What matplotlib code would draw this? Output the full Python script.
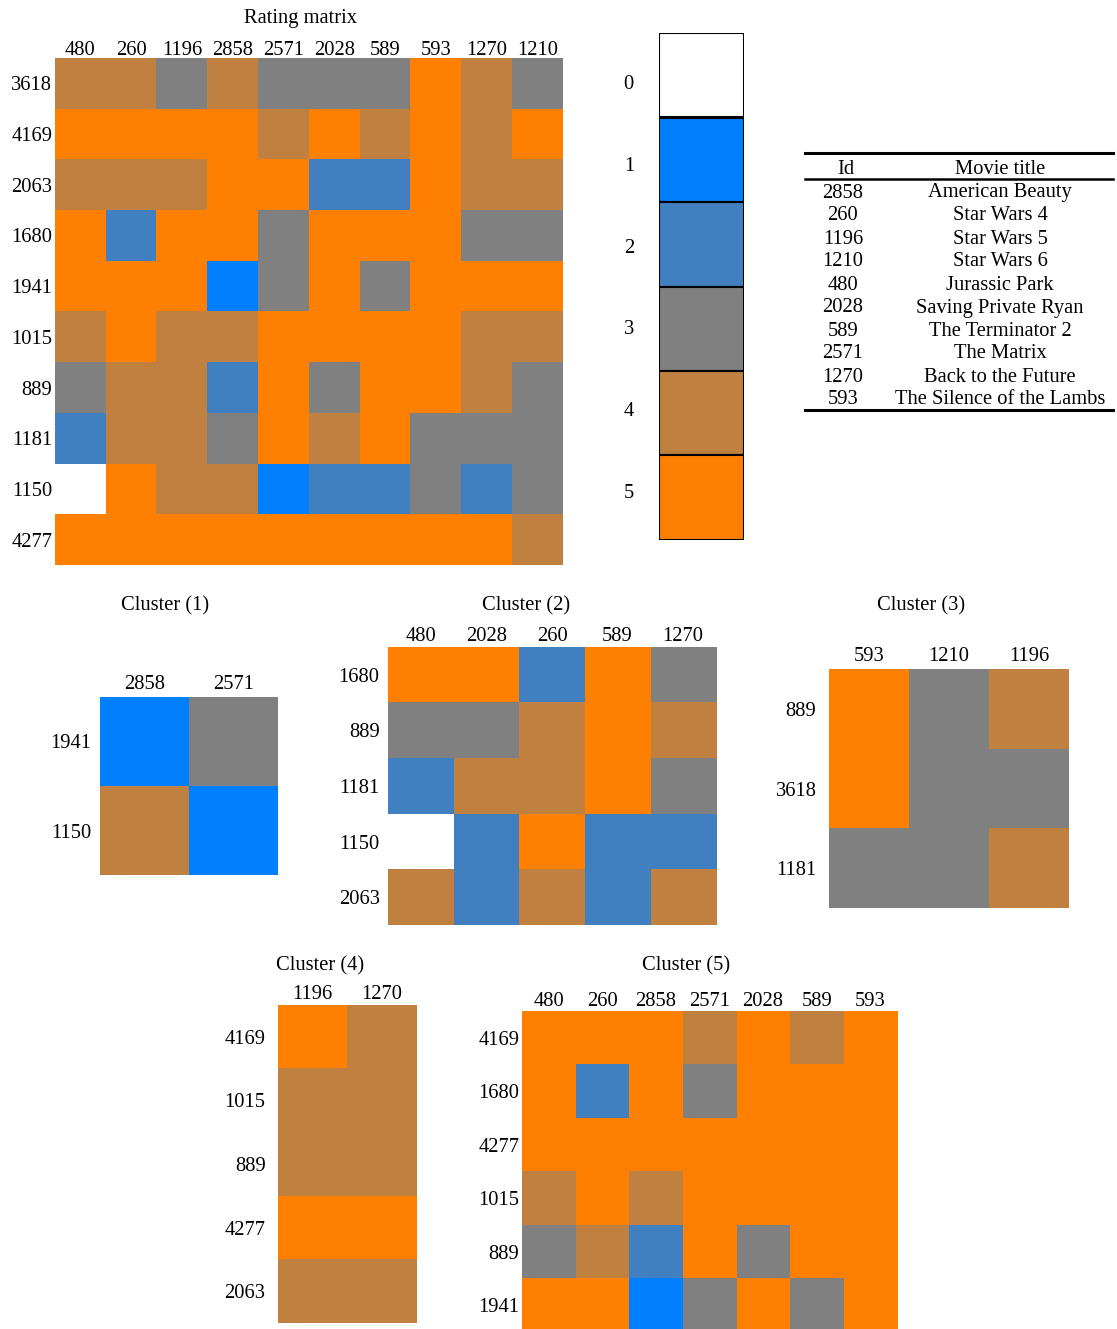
import numpy as np
import matplotlib
matplotlib.use("Agg")
import matplotlib.pyplot as plt
from matplotlib.colors import ListedColormap

plt.rcParams['font.family'] = ['Liberation Serif', 'DejaVu Serif']
plt.rcParams['font.size'] = 14.8

# rating matrix: rows are users, columns are movies
movies = [480, 260, 1196, 2858, 2571, 2028, 589, 593, 1270, 1210]
users = [3618, 4169, 2063, 1680, 1941, 1015, 889, 1181, 1150, 4277]
ratings = [
    [4, 4, 3, 4, 3, 3, 3, 5, 4, 3],
    [5, 5, 5, 5, 4, 5, 4, 5, 4, 5],
    [4, 4, 4, 5, 5, 2, 2, 5, 4, 4],
    [5, 2, 5, 5, 3, 5, 5, 5, 3, 3],
    [5, 5, 5, 1, 3, 5, 3, 5, 5, 5],
    [4, 5, 4, 4, 5, 5, 5, 5, 4, 4],
    [3, 4, 4, 2, 5, 3, 5, 5, 4, 3],
    [2, 4, 4, 3, 5, 4, 5, 3, 3, 3],
    [0, 5, 4, 4, 1, 2, 2, 3, 2, 3],
    [5, 5, 5, 5, 5, 5, 5, 5, 5, 4],
]

# biclusters (users, movies)
c1_users, c1_movies = [1941, 1150], [2858, 2571]
c2_users, c2_movies = [1680, 889, 1181, 1150, 2063], [480, 2028, 260, 589, 1270]
c3_users, c3_movies = [889, 3618, 1181], [593, 1210, 1196]
c4_users, c4_movies = [4169, 1015, 889, 4277, 2063], [1196, 1270]
c5_users, c5_movies = [4169, 1680, 4277, 1015, 889, 1941], [480, 260, 2858, 2571, 2028, 589, 593]

table_ids = [2858, 260, 1196, 1210, 480, 2028, 589, 2571, 1270, 593]
table_titles = ["American Beauty", "Star Wars 4", "Star Wars 5", "Star Wars 6",
                "Jurassic Park", "Saving Private Ryan", "The Terminator 2",
                "The Matrix", "Back to the Future", "The Silence of the Lambs"]

levels = [0, 1, 2, 3, 4, 5]
colors = ['#FFFFFF', '#0080FF', '#4080C0', '#808080', '#C08040', '#FF8000']
cmap = ListedColormap(colors)

R = np.array(ratings)
W, H = 1117, 1329
fig = plt.figure(figsize=(W / 100, H / 100), dpi=100)


def px_axes(x0, y0, x1, y1):
    return fig.add_axes([x0 / W, 1 - y1 / H, (x1 - x0) / W, (y1 - y0) / H])


def px_text(x, y, s, **kw):
    fig.text(x / W, 1 - (y + 3) / H, s, ha=kw.pop('ha', 'center'), va=kw.pop('va', 'center'), **kw)


def heat(rect, rows, cols, top_pad, left_pad):
    ax = px_axes(*rect)
    sub = R[np.ix_([users.index(u) for u in rows], [movies.index(m) for m in cols])]
    ax.imshow(sub, cmap=cmap, vmin=-0.5, vmax=5.5, aspect='auto', interpolation='nearest')
    ax.set_xticks(range(len(cols)))
    ax.set_xticklabels([str(c) for c in cols])
    ax.set_yticks(range(len(rows)))
    ax.set_yticklabels([str(r) for r in rows])
    ax.xaxis.tick_top()
    ax.tick_params(axis='x', length=0, pad=top_pad)
    ax.tick_params(axis='y', length=0, pad=left_pad)
    for s in ax.spines.values():
        s.set_visible(False)
    return ax


# full matrix
heat((55, 58, 563, 565), users, movies, -1.5, 2)
px_text(300, 15, "Rating matrix")

# legend bar
cax = px_axes(659, 33, 744, 540)
for i, lv in enumerate(levels):
    cax.add_patch(plt.Rectangle((0, i), 1, 1, facecolor=colors[i], edgecolor='black', lw=1.5))
cax.set_xlim(0, 1)
cax.set_ylim(len(levels), 0)
cax.set_xticks([])
cax.set_yticks([0.58 + i * 0.968 for i in range(len(levels))])
cax.set_yticklabels([str(lv) for lv in levels])
cax.tick_params(axis='y', length=0, pad=18)
for s in cax.spines.values():
    s.set_visible(False)

# movie table
fig.add_artist(plt.Line2D([805 / W, 1113 / W], [1 - 153 / H] * 2, color='black', lw=2.2))
fig.add_artist(plt.Line2D([805 / W, 1113 / W], [1 - 179 / H] * 2, color='black', lw=1.8))
fig.add_artist(plt.Line2D([805 / W, 1113 / W], [1 - 410 / H] * 2, color='black', lw=2.2))
px_text(846, 166, "Id")
px_text(1000, 166, "Movie title")
for i, (mid, title) in enumerate(zip(table_ids, table_titles)):
    px_text(843, 190 + i * 23, str(mid))
    px_text(1000, 190 + i * 23, title)

# clusters
heat((100, 697, 278, 875), c1_users, c1_movies, 2, 6)
px_text(165, 603, "Cluster (1)")
heat((388, 647, 716, 925), c2_users, c2_movies, 1, 6)
px_text(526, 603, "Cluster (2)")
heat((829, 669, 1069, 908), c3_users, c3_movies, 2, 9)
px_text(921, 603, "Cluster (3)")
heat((278, 1005, 416, 1323), c4_users, c4_movies, 1, 9)
px_text(320, 963, "Cluster (4)")
heat((522, 1011, 897, 1332), c5_users, c5_movies, 0, 2)
px_text(686, 963, "Cluster (5)")

fig.savefig("out.png", dpi=100)
